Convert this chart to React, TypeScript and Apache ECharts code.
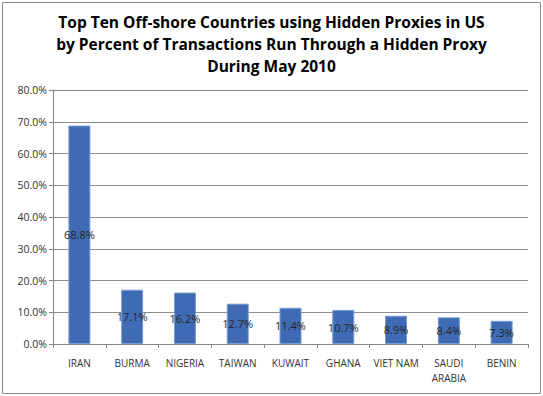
import React, { useEffect, useRef } from "react";
import * as echarts from "echarts";

const categories = ["IRAN", "BURMA", "NIGERIA", "TAIWAN", "KUWAIT", "GHANA", "VIET NAM", "SAUDI\nARABIA", "BENIN"];
const values = [68.8, 17.1, 16.2, 12.7, 11.4, 10.7, 8.9, 8.4, 7.3];
const titleLines = [
  "Top Ten Off-shore Countries using Hidden Proxies in US",
  "by Percent of Transactions Run Through a Hidden Proxy",
  "During May 2010",
];

export default function App() {
  const ref = useRef<HTMLDivElement>(null);
  useEffect(() => {
    document.body.style.margin = "0";
    const chart = echarts.init(ref.current!, undefined, { renderer: "svg" });
    const font = "'Open Sans', 'Liberation Sans', sans-serif";
    chart.setOption({
      animation: false,
      backgroundColor: "#ffffff",
      title: {
        text: titleLines.join("\n"),
        left: "center",
        top: 6,
        textStyle: {
          fontFamily: font,
          fontSize: 15.5,
          fontWeight: "bold",
          color: "#000000",
          lineHeight: 22,
        },
      },
      graphic: [
        {
          type: "rect",
          shape: { x: 2.5, y: 2.5, width: 538, height: 391 },
          style: { fill: "none", stroke: "#8c8c8c", lineWidth: 1 },
          silent: true,
        },
      ],
      grid: { left: 53, right: 15, top: 90, bottom: 52 },
      xAxis: {
        type: "category",
        data: categories,
        axisLine: { lineStyle: { color: "#868686" } },
        axisTick: { show: true, length: 4, lineStyle: { color: "#868686" } },
        axisLabel: {
          fontFamily: font,
          fontSize: 10,
          color: "#333333",
          margin: 11,
          lineHeight: 15,
          interval: 0,
        },
      },
      yAxis: {
        type: "value",
        min: 0,
        max: 80,
        interval: 10,
        axisLine: { show: true, lineStyle: { color: "#868686" } },
        axisTick: { show: true, length: 4, lineStyle: { color: "#868686" } },
        splitLine: { lineStyle: { color: "#8c8c8c" } },
        axisLabel: {
          fontFamily: font,
          fontSize: 10.5,
          color: "#333333",
          margin: 6,
          formatter: (v: number) => v.toFixed(1) + "%",
        },
      },
      series: [
        {
          type: "bar",
          data: values,
          barWidth: 22,
          itemStyle: { color: "#3E6BB3", borderColor: "#7A9BD3", borderWidth: 1 },
          label: {
            show: true,
            position: "inside",
            fontFamily: font,
            fontSize: 11,
            color: "#262626",
            formatter: (p: any) => p.value.toFixed(1) + "%",
          },
        },
      ],
    });
    return () => chart.dispose();
  }, []);
  return <div ref={ref} style={{ position: "absolute", left: 0, top: 0, width: 543, height: 396 }} />;
}
